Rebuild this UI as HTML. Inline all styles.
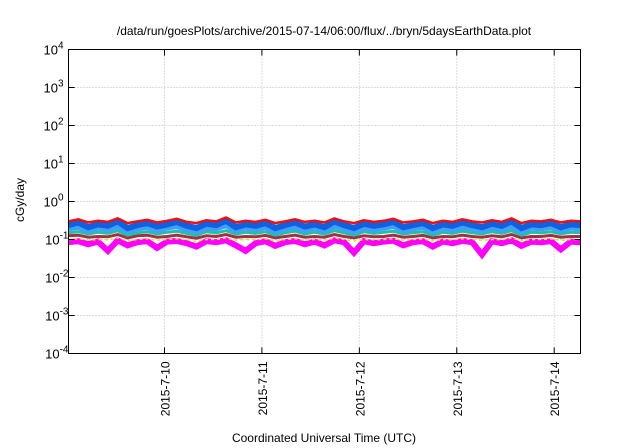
<!DOCTYPE html>
<html><head><meta charset="utf-8"><style>
body{margin:0;background:#fff;}
svg{display:block;font-family:"Liberation Sans",sans-serif;}
</style></head><body>
<svg id="chart" width="640" height="448">
<text x="324" y="35" font-size="12" text-anchor="middle">/data/run/goesPlots/archive/2015-07-14/06:00/flux/../bryn/5daysEarthData.plot</text>
<text x="324" y="442" font-size="12" text-anchor="middle">Coordinated Universal Time (UTC)</text>
<text transform="translate(24,200) rotate(-90)" font-size="12" text-anchor="middle">cGy/day</text>
<g id="grid"></g><g id="series"></g><g id="axes"></g>
</svg>
<script>
const dayLabels=["2015-7-10","2015-7-11","2015-7-12","2015-7-13","2015-7-14"];
const yExps=[-4,-3,-2,-1,0,1,2,3,4];
const tStart=-0.985, tEnd=4.27; // days relative to 2015-7-10
const red=[.30,.34,.28,.31,.29,.36,.27,.30,.33,.28,.31,.35,.29,.27,.32,.30,.38,.28,.31,.29,.33,.27,.30,.34,.29,.31,.28,.36,.30,.27,.32,.29,.31,.35,.28,.30,.33,.27,.31,.29,.34,.30,.28,.32,.29,.36,.27,.31,.30,.33,.28,.31,.30];
const blue=[.24,.28,.21,.25,.23,.30,.20,.24,.27,.22,.25,.29,.23,.20,.26,.24,.31,.21,.25,.23,.27,.20,.24,.28,.22,.25,.21,.30,.24,.20,.26,.23,.25,.29,.21,.24,.27,.20,.25,.23,.28,.24,.21,.26,.23,.30,.20,.25,.24,.27,.21,.25,.24];
const lblue=[.19,.21,.17,.20,.18,.22,.16,.19,.21,.17,.20,.22,.18,.16,.20,.19,.23,.17,.20,.18,.21,.16,.19,.21,.17,.20,.17,.22,.19,.16,.20,.18,.20,.22,.17,.19,.21,.16,.20,.18,.21,.19,.17,.20,.18,.22,.16,.20,.19,.21,.17,.20,.19];
const teal=[.15,.16,.14,.155,.145,.17,.13,.15,.16,.14,.155,.165,.145,.13,.16,.15,.17,.14,.155,.145,.16,.13,.15,.165,.14,.155,.14,.17,.15,.13,.16,.145,.155,.165,.14,.15,.16,.13,.155,.145,.165,.15,.14,.16,.145,.17,.13,.155,.15,.16,.14,.155,.15];
const brown=[.125,.13,.115,.12,.118,.135,.11,.125,.13,.115,.12,.13,.118,.108,.125,.12,.135,.115,.12,.118,.128,.11,.12,.13,.115,.12,.115,.135,.12,.11,.125,.118,.12,.13,.115,.12,.128,.11,.12,.118,.13,.12,.115,.125,.118,.135,.11,.12,.12,.128,.115,.12,.12];
const yellow=[.10,.105,.095,.10,.098,.11,.092,.10,.105,.095,.10,.105,.098,.09,.10,.10,.11,.095,.10,.098,.104,.092,.10,.105,.095,.10,.095,.11,.10,.092,.10,.098,.10,.105,.095,.10,.104,.092,.10,.098,.105,.10,.095,.10,.098,.11,.092,.10,.10,.104,.095,.10,.10];
const magenta=[.085,.09,.075,.088,.05,.095,.07,.085,.09,.06,.088,.092,.08,.065,.09,.085,.095,.07,.05,.08,.09,.068,.085,.092,.075,.088,.07,.095,.085,.045,.09,.08,.088,.093,.07,.085,.09,.065,.088,.08,.092,.085,.04,.09,.08,.095,.068,.088,.085,.09,.055,.088,.085];
const seriesList=[[magenta,"#ff00ff",6,""],[yellow,"#e6e600",1.5,"3,3"],[brown,"#a0304a",3,""],[teal,"#20c0a0",3,""],[lblue,"#40a0ff",5,""],[blue,"#1060e0",6,""],[red,"#ee1010",2.5,""]];
const L=68.5,R=580.5,T=49.5,B=353.5;
const NS="http://www.w3.org/2000/svg";
const xS=t=>L+(t-tStart)/(tEnd-tStart)*(R-L);
const yS=v=>B-(Math.log10(v)+4)/8*(B-T);
function mk(tag,a,p){const e=document.createElementNS(NS,tag);for(const k in a)e.setAttribute(k,a[k]);p.appendChild(e);return e;}
const grid=document.getElementById('grid'),ser=document.getElementById('series'),ax=document.getElementById('axes');
yExps.forEach(e=>{const y=yS(Math.pow(10,e));
 if(e>-4&&e<4){const g=mk('line',{x1:L,x2:R,y1:y,y2:y,stroke:'#bbb','stroke-dasharray':'1,2'},grid);
 
 }
 mk('line',{x1:L,x2:L+6,y1:y,y2:y,stroke:'#000'},ax);mk('line',{x1:R,x2:R-6,y1:y,y2:y,stroke:'#000'},ax);
 const t=mk('text',{x:L-10,y:y+5,'font-size':13,'text-anchor':'end'},ax);
 
 
 t.textContent='10';const s=mk('tspan',{dy:-6,'font-size':10},t);s.textContent=String(e);
 t.setAttribute('transform','translate('+(String(e).length*5)+',0)');
});
dayLabels.forEach((d,i)=>{const x=xS(i);
 const g=mk('line',{x1:x,x2:x,y1:T,y2:B,stroke:'#bbb','stroke-dasharray':'1,2'},grid);
 
 
 mk('line',{x1:x,x2:x,y1:B,y2:B-6,stroke:'#000'},ax);mk('line',{x1:x,x2:x,y1:T,y2:T+6,stroke:'#000'},ax);
 const t=mk('text',{transform:'translate('+(x+5)+','+(B+8)+') rotate(-90)','font-size':12,'text-anchor':'end'},ax);
 
 
 t.textContent=d;
});
seriesList.forEach(([vals,col,w,dash])=>{const n=vals.length;
 const pts=vals.map((v,i)=>xS(tStart+i*(tEnd-tStart)/(n-1)).toFixed(1)+','+yS(v).toFixed(1)).join(' ');
 const p=mk('polyline',{points:pts,fill:'none',stroke:col,'stroke-width':w,'stroke-dasharray':dash},ser);
 
 
});
const fr=mk('rect',{x:L,y:T,width:R-L,height:B-T,fill:'none',stroke:'#000','stroke-width':1},ax);


</script>
</body></html>
